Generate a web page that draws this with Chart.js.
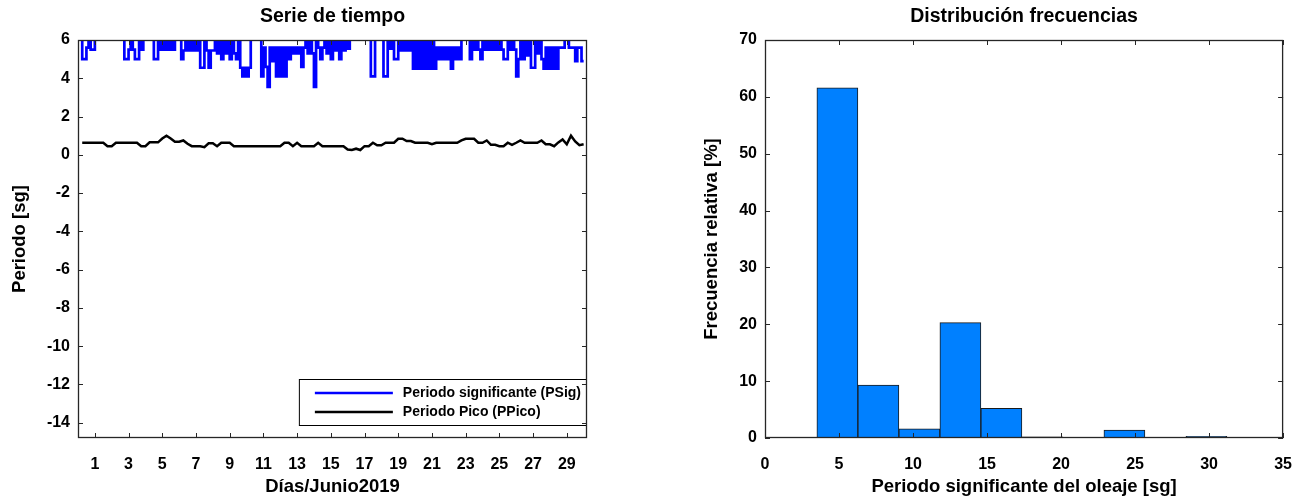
<!DOCTYPE html>
<html>
<head>
<meta charset="utf-8">
<title>Periodo del oleaje - Junio 2019</title>
<script src="https://cdn.jsdelivr.net/npm/chart.js@4.4.1/dist/chart.umd.min.js"></script>
<style>
  body { margin: 0; background: #fff; }
  #wrap { position: relative; width: 1309px; height: 500px; }
  .panel { position: absolute; top: 0; height: 500px; }
  #left { left: 0; width: 640px; }
  #right { left: 650px; width: 659px; }
</style>
</head>
<body>
<div id="wrap">
  <div class="panel" id="left"><canvas id="serieChart" width="640" height="500"></canvas></div>
  <div class="panel" id="right"><canvas id="histChart" width="659" height="500"></canvas></div>
</div>
<script>
// Periodo significante, registro cada 3 horas (dia del mes)
const diasPsig = [
  0.125, 0.25, 0.375, 0.5, 0.625, 0.75, 0.875, 1,
  1.125, 1.25, 1.375, 1.5, 1.625, 1.75, 1.875, 2,
  2.125, 2.25, 2.375, 2.5, 2.625, 2.75, 2.875, 3,
  3.125, 3.25, 3.375, 3.5, 3.625, 3.75, 3.875, 4,
  4.125, 4.25, 4.375, 4.5, 4.625, 4.75, 4.875, 5,
  5.125, 5.25, 5.375, 5.5, 5.625, 5.75, 5.875, 6,
  6.125, 6.25, 6.375, 6.5, 6.625, 6.75, 6.875, 7,
  7.125, 7.25, 7.375, 7.5, 7.625, 7.75, 7.875, 8,
  8.125, 8.25, 8.375, 8.5, 8.625, 8.75, 8.875, 9,
  9.125, 9.25, 9.375, 9.5, 9.625, 9.75, 9.875, 10,
  10.125, 10.25, 10.375, 10.5, 10.625, 10.75, 10.875, 11,
  11.125, 11.25, 11.375, 11.5, 11.625, 11.75, 11.875, 12,
  12.125, 12.25, 12.375, 12.5, 12.625, 12.75, 12.875, 13,
  13.125, 13.25, 13.375, 13.5, 13.625, 13.75, 13.875, 14,
  14.125, 14.25, 14.375, 14.5, 14.625, 14.75, 14.875, 15,
  15.125, 15.25, 15.375, 15.5, 15.625, 15.75, 15.875, 16,
  16.125, 16.25, 16.375, 16.5, 16.625, 16.75, 16.875, 17,
  17.125, 17.25, 17.375, 17.5, 17.625, 17.75, 17.875, 18,
  18.125, 18.25, 18.375, 18.5, 18.625, 18.75, 18.875, 19,
  19.125, 19.25, 19.375, 19.5, 19.625, 19.75, 19.875, 20,
  20.125, 20.25, 20.375, 20.5, 20.625, 20.75, 20.875, 21,
  21.125, 21.25, 21.375, 21.5, 21.625, 21.75, 21.875, 22,
  22.125, 22.25, 22.375, 22.5, 22.625, 22.75, 22.875, 23,
  23.125, 23.25, 23.375, 23.5, 23.625, 23.75, 23.875, 24,
  24.125, 24.25, 24.375, 24.5, 24.625, 24.75, 24.875, 25,
  25.125, 25.25, 25.375, 25.5, 25.625, 25.75, 25.875, 26,
  26.125, 26.25, 26.375, 26.5, 26.625, 26.75, 26.875, 27,
  27.125, 27.25, 27.375, 27.5, 27.625, 27.75, 27.875, 28,
  28.125, 28.25, 28.375, 28.5, 28.625, 28.75, 28.875, 29,
  29.125, 29.25, 29.375, 29.5, 29.625, 29.75, 29.875, 30
];

// Periodo significante (PSig) [sg]; los valores > 6 quedan fuera del eje
const psig = [
  6.3, 6.3, 5.0, 5.0, 5.6, 6.3, 5.5, 5.5,
  6.3, 6.3, 6.3, 6.3, 6.3, 6.3, 6.3, 6.3,
  6.3, 6.3, 6.3, 6.3, 6.3, 6.3, 5.0, 5.0,
  5.5, 6.3, 5.5, 5.0, 5.0, 6.3, 5.5, 6.3,
  6.3, 6.3, 6.3, 6.3, 5.0, 5.0, 6.3, 5.5,
  6.3, 5.5, 6.3, 5.5, 6.3, 5.5, 6.3, 6.3,
  6.3, 5.0, 5.45, 6.3, 5.45, 6.3, 5.45, 6.3,
  5.45, 6.3, 4.55, 4.55, 6.3, 5.45, 4.55, 5.45,
  5.45, 6.3, 5.3, 6.3, 5.0, 6.3, 5.3, 6.3,
  5.0, 6.3, 5.3, 5.0, 6.3, 4.55, 4.1, 4.55,
  4.1, 4.55, 6.3, 6.3, 6.3, 6.3, 6.3, 4.1,
  5.6, 4.6, 3.55, 5.6, 4.9, 5.6, 4.1, 5.6,
  4.1, 5.6, 4.1, 5.6, 5.0, 5.6, 5.3, 5.6,
  5.3, 5.6, 4.6, 5.6, 6.3, 5.3, 6.3, 5.3,
  3.55, 6.3, 5.6, 5.0, 5.6, 6.3, 5.3, 6.3,
  5.0, 6.3, 5.45, 6.3, 5.0, 6.3, 5.45, 6.3,
  5.55, 6.3, 6.3, 6.3, 6.3, 6.3, 6.3, 6.3,
  6.3, 6.3, 6.3, 4.1, 4.1, 6.3, 6.3, 6.3,
  6.3, 4.1, 4.1, 6.3, 5.55, 6.3, 5.0, 5.0,
  6.3, 5.45, 6.3, 5.45, 6.3, 5.45, 6.3, 4.5,
  6.3, 4.5, 6.3, 4.5, 6.3, 4.5, 6.3, 4.5,
  6.3, 4.5, 5.6, 5.0, 5.6, 5.0, 5.6, 5.0,
  5.6, 4.5, 5.6, 5.0, 5.6, 5.0, 6.3, 6.3,
  6.3, 6.3, 5.0, 6.3, 5.5, 6.3, 5.5, 5.0,
  6.3, 5.5, 6.3, 5.5, 6.3, 5.5, 6.3, 5.5,
  6.3, 5.5, 5.0, 5.0, 6.3, 5.5, 6.3, 5.5,
  4.1, 5.0, 6.3, 5.0, 6.3, 5.2, 6.3, 4.55,
  4.55, 6.3, 5.3, 6.3, 5.0, 4.5, 5.6, 4.5,
  5.6, 4.5, 5.6, 4.5, 5.6, 5.6, 5.6, 6.3,
  6.3, 5.6, 5.6, 5.6, 4.9, 5.6, 5.6, 4.9
];

// Periodo pico, registro cada 6 horas (dia del mes)
const diasPpico = [
  0.25, 0.5, 0.75, 1, 1.25, 1.5, 1.75, 2,
  2.25, 2.5, 2.75, 3, 3.25, 3.5, 3.75, 4,
  4.25, 4.5, 4.75, 5, 5.25, 5.5, 5.75, 6,
  6.25, 6.5, 6.75, 7, 7.25, 7.5, 7.75, 8,
  8.25, 8.5, 8.75, 9, 9.25, 9.5, 9.75, 10,
  10.25, 10.5, 10.75, 11, 11.25, 11.5, 11.75, 12,
  12.25, 12.5, 12.75, 13, 13.25, 13.5, 13.75, 14,
  14.25, 14.5, 14.75, 15, 15.25, 15.5, 15.75, 16,
  16.25, 16.5, 16.75, 17, 17.25, 17.5, 17.75, 18,
  18.25, 18.5, 18.75, 19, 19.25, 19.5, 19.75, 20,
  20.25, 20.5, 20.75, 21, 21.25, 21.5, 21.75, 22,
  22.25, 22.5, 22.75, 23, 23.25, 23.5, 23.75, 24,
  24.25, 24.5, 24.75, 25, 25.25, 25.5, 25.75, 26,
  26.25, 26.5, 26.75, 27, 27.25, 27.5, 27.75, 28,
  28.25, 28.5, 28.75, 29, 29.25, 29.5, 29.75, 30
];

// Periodo pico (PPico) [sg]
const ppico = [
  0.63, 0.63, 0.63, 0.63, 0.63, 0.63, 0.45, 0.45,
  0.63, 0.63, 0.63, 0.63, 0.63, 0.63, 0.45, 0.45,
  0.65, 0.65, 0.65, 0.85, 1.0, 0.85, 0.68, 0.68,
  0.75, 0.58, 0.45, 0.45, 0.45, 0.4, 0.6, 0.6,
  0.45, 0.63, 0.63, 0.63, 0.45, 0.45, 0.45, 0.45,
  0.45, 0.45, 0.45, 0.45, 0.45, 0.45, 0.45, 0.45,
  0.63, 0.63, 0.45, 0.63, 0.45, 0.45, 0.45, 0.45,
  0.63, 0.45, 0.45, 0.45, 0.45, 0.45, 0.45, 0.28,
  0.25, 0.32, 0.25, 0.45, 0.45, 0.63, 0.5, 0.5,
  0.63, 0.63, 0.63, 0.84, 0.84, 0.72, 0.72, 0.63,
  0.63, 0.63, 0.63, 0.55, 0.63, 0.63, 0.63, 0.63,
  0.63, 0.63, 0.75, 0.84, 0.84, 0.84, 0.63, 0.63,
  0.75, 0.52, 0.52, 0.45, 0.45, 0.63, 0.52, 0.63,
  0.75, 0.63, 0.63, 0.63, 0.63, 0.75, 0.55, 0.55,
  0.45, 0.65, 0.8, 0.55, 1.0, 0.7, 0.5, 0.55
];

const diasTicks = [1, 3, 5, 7, 9, 11, 13, 15, 17, 19, 21, 23, 25, 27, 29];
const periodoTicks = [-14, -12, -10, -8, -6, -4, -2, 0, 2, 4, 6];

// Histograma: centro de cada clase [sg] y frecuencia relativa [%]
const clases = [4.89, 7.66, 10.43, 13.2, 15.97, 18.74, 21.51, 24.28, 27.05, 29.82];
const frecuencia = [61.6, 9.3, 1.6, 20.3, 5.2, 0.2, 0, 1.4, 0, 0.3];
const periodoHistTicks = [0, 5, 10, 15, 20, 25, 30, 35];
const frecuenciaTicks = [0, 10, 20, 30, 40, 50, 60, 70];

Chart.defaults.font.family = '"Liberation Sans", Arial, sans-serif';
Chart.defaults.font.weight = 'bold';
Chart.defaults.color = '#000';

const toXY = (xs, ys) => xs.map((x, i) => ({ x: x, y: ys[i] }));
const fixTicks = values => scale => { scale.ticks = values.map(v => ({ value: v })); };

// Marco del area de dibujo con marcas hacia adentro en los cuatro lados
const marcoEjes = {
  id: 'marcoEjes',
  afterDraw(chart) {
    const { ctx, chartArea: a, scales: { x, y } } = chart;
    ctx.save();
    ctx.strokeStyle = '#262626';
    ctx.lineWidth = 1;
    ctx.beginPath();
    x.ticks.forEach(t => {
      const px = Math.round(x.getPixelForValue(t.value)) + 0.5;
      ctx.moveTo(px, a.bottom); ctx.lineTo(px, a.bottom - 5);
      ctx.moveTo(px, a.top); ctx.lineTo(px, a.top + 5);
    });
    y.ticks.forEach(t => {
      const py = Math.round(y.getPixelForValue(t.value)) + 0.5;
      ctx.moveTo(a.left, py); ctx.lineTo(a.left + 5, py);
      ctx.moveTo(a.right, py); ctx.lineTo(a.right - 5, py);
    });
    ctx.stroke();
    ctx.lineWidth = 1.3;
    ctx.strokeRect(a.left + 0.5, a.top + 0.5, a.width - 1, a.height - 1);
    ctx.restore();
  }
};

// Leyenda dentro del grafico, esquina inferior derecha
const leyendaInterna = {
  id: 'leyendaInterna',
  afterDatasetsDraw(chart) {
    const { ctx, chartArea: a } = chart;
    const items = chart.data.datasets;
    ctx.save();
    ctx.font = 'bold 14px "Liberation Sans", Arial, sans-serif';
    const textW = Math.max(...items.map(d => ctx.measureText(d.label).width));
    const rowH = 19, sample = 78;
    const w = 16 + sample + 10 + textW + 6;
    const h = items.length * rowH + 9;
    const right = a.right, bottom = a.bottom - 12;
    const left = right - w, top = bottom - h;
    ctx.fillStyle = '#fff';
    ctx.fillRect(left, top, w, h);
    ctx.strokeStyle = '#000';
    ctx.lineWidth = 1;
    ctx.strokeRect(left + 0.5, top + 0.5, w - 1, h - 1);
    items.forEach((d, i) => {
      const cy = top + 4.5 + rowH * i + rowH / 2;
      ctx.strokeStyle = d.borderColor;
      ctx.lineWidth = 2.5;
      ctx.beginPath();
      ctx.moveTo(left + 16, cy);
      ctx.lineTo(left + 16 + sample, cy);
      ctx.stroke();
      ctx.fillStyle = '#000';
      ctx.textBaseline = 'middle';
      ctx.fillText(d.label, left + 16 + sample + 10, cy);
    });
    ctx.restore();
  }
};

new Chart(document.getElementById('serieChart'), {
  type: 'line',
  data: {
    datasets: [
      {
        label: 'Periodo significante (PSig)',
        data: toXY(diasPsig, psig),
        borderColor: '#0000ff',
        borderWidth: 2.7,
        stepped: 'after',
        pointRadius: 0,
        fill: false
      },
      {
        label: 'Periodo Pico (PPico)',
        data: toXY(diasPpico, ppico),
        borderColor: '#000000',
        borderWidth: 2.5,
        pointRadius: 0,
        tension: 0,
        fill: false
      }
    ]
  },
  options: {
    responsive: false,
    animation: false,
    layout: { padding: { left: 0, right: 53, top: 0, bottom: 0 } },
    plugins: {
      legend: { display: false },
      tooltip: { enabled: false },
      title: {
        display: true,
        fullSize: false,
        text: 'Serie de tiempo',
        font: { size: 19.5, weight: 'bold' },
        color: '#000',
        padding: { top: 5, bottom: 11.6 }
      }
    },
    scales: {
      x: {
        type: 'linear',
        min: 0,
        max: 30.2,
        grid: { display: false, drawTicks: false },
        border: { display: false },
        afterBuildTicks: fixTicks(diasTicks),
        afterFit: s => { s.height = 62; },
        ticks: { font: { size: 16 }, padding: 17, maxRotation: 0, autoSkip: false },
        title: { display: true, text: 'Días/Junio2019', font: { size: 18.5 }, padding: { top: 0, bottom: 2 } }
      },
      y: {
        min: -14.8,
        max: 6,
        grid: { display: false, drawTicks: false },
        border: { display: false },
        afterBuildTicks: fixTicks(periodoTicks),
        afterFit: s => { s.width = 78; },
        ticks: { font: { size: 16 }, padding: 8 },
        title: { display: true, text: 'Periodo [sg]', font: { size: 18.5 }, padding: { top: 9, bottom: 0 } }
      }
    }
  },
  plugins: [leyendaInterna, marcoEjes]
});

new Chart(document.getElementById('histChart'), {
  type: 'bar',
  data: {
    datasets: [{
      label: 'Frecuencia relativa',
      data: toXY(clases, frecuencia),
      backgroundColor: '#0080ff',
      borderColor: '#1a1a1a',
      borderWidth: 1,
      borderSkipped: false,
      barPercentage: 1,
      categoryPercentage: 1
    }]
  },
  options: {
    responsive: false,
    animation: false,
    layout: { padding: { left: 0, right: 22, top: 0, bottom: 0 } },
    plugins: {
      legend: { display: false },
      tooltip: { enabled: false },
      title: {
        display: true,
        fullSize: false,
        text: 'Distribución frecuencias',
        font: { size: 19.5, weight: 'bold' },
        color: '#000',
        padding: { top: 5, bottom: 11.6 }
      }
    },
    scales: {
      x: {
        type: 'linear',
        min: 0,
        max: 35,
        offset: false,
        grid: { display: false, drawTicks: false },
        border: { display: false },
        afterBuildTicks: fixTicks(periodoHistTicks),
        afterFit: s => { s.height = 62; },
        ticks: { font: { size: 16 }, padding: 17, maxRotation: 0, autoSkip: false },
        title: { display: true, text: 'Periodo significante del oleaje [sg]', font: { size: 18.5 }, padding: { top: 0, bottom: 2 } }
      },
      y: {
        min: 0,
        max: 70,
        grid: { display: false, drawTicks: false },
        border: { display: false },
        afterBuildTicks: fixTicks(frecuenciaTicks),
        afterFit: s => { s.width = 115; },
        ticks: { font: { size: 16 }, padding: 8 },
        title: { display: true, text: 'Frecuencia relativa [%]', font: { size: 18.5 }, padding: { top: 51, bottom: 0 } }
      }
    }
  },
  plugins: [marcoEjes]
});
</script>
</body>
</html>
